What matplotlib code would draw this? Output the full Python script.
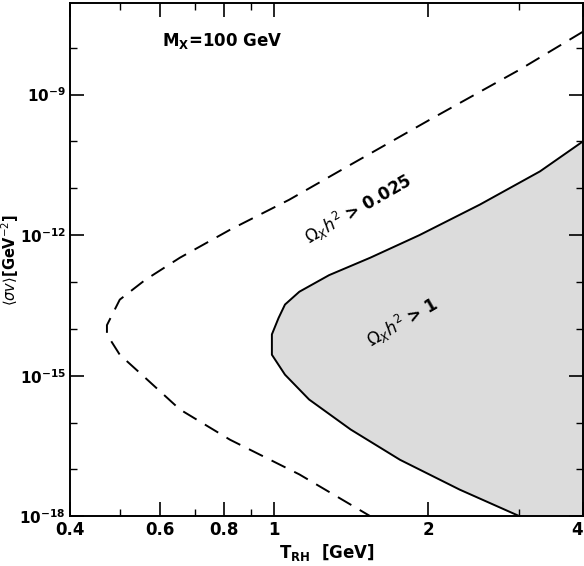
import numpy as np
import matplotlib.pyplot as plt
from matplotlib.ticker import FixedLocator, NullFormatter, LogLocator

# dashed contour: Omega h^2 = 0.025
dash_T = [4.0, 3.01, 2.01, 1.41, 1.07, 0.82, 0.655, 0.56, 0.50, 0.472, 0.472, 0.50, 0.56, 0.655, 0.82, 1.12, 1.54]
dash_sv = [2.2e-8, 3.4e-9, 2.9e-10, 3.2e-11, 5.7e-12, 1.3e-12, 3.3e-13, 1.1e-13, 4.2e-14, 1.2e-14,
           7.6e-15, 2.8e-15, 9.1e-16, 1.9e-16, 4.3e-17, 7.8e-18, 1e-18]

# solid contour: Omega h^2 = 1
solid_T = [4.0, 3.30, 2.52, 1.92, 1.54, 1.28, 1.12, 1.05, 1.02, 0.99, 0.99, 1.05, 1.17, 1.41, 1.76, 2.30, 3.01]
solid_sv = [1e-10, 2.3e-11, 4.5e-12, 1.0e-12, 3.3e-13, 1.4e-13, 6.2e-14, 3.3e-14, 1.7e-14, 7.6e-15,
            2.8e-15, 1.05e-15, 3.1e-16, 7.1e-17, 1.6e-17, 3.7e-18, 1e-18]

x_ticks = [0.4, 0.6, 0.8, 1, 2, 4]
x_labels = ['0.4', '0.6', '0.8', '1', '2', '4']

fig = plt.figure(figsize=(5.84, 5.66), dpi=100)
ax = fig.add_axes([0.12, 0.088, 0.878, 0.907])
ax.set_xscale('log')
ax.set_yscale('log')
ax.set_xlim(0.4, 4)
ax.set_ylim(1e-18, 10**-7.04)

# shaded region right of solid curve
fx = solid_T + [4.0]
fy = solid_sv + [1e-18]
ax.fill(fx, fy, color='#dcdcdc', zorder=1)
ax.plot(solid_T, solid_sv, 'k-', lw=1.4, zorder=2)
ax.plot(dash_T, dash_sv, 'k--', lw=1.4, dashes=(8, 5), zorder=2)

ax.xaxis.set_major_locator(FixedLocator(x_ticks))
ax.set_xticklabels(x_labels)
ax.xaxis.set_minor_locator(FixedLocator([0.5, 0.7, 0.9, 3]))
ax.xaxis.set_minor_formatter(NullFormatter())
ax.yaxis.set_major_locator(FixedLocator([1e-18, 1e-15, 1e-12, 1e-9]))
ax.yaxis.set_minor_locator(LogLocator(base=10, subs=[1.0], numticks=20))
ax.yaxis.set_minor_formatter(NullFormatter())
ax.tick_params(which='both', direction='in', top=True, right=True, labelsize=12)
ax.tick_params(axis='y', pad=3, labelsize=11)
ax.tick_params(which='major', length=10, width=1.2)
ax.tick_params(which='minor', length=5, width=1)
for s in ax.spines.values():
    s.set_linewidth(1.4)
for lab in ax.get_xticklabels() + ax.get_yticklabels():
    lab.set_fontweight('bold')
ax.get_xticklabels()[-1].set_horizontalalignment('right')

ax.set_xlabel(r'$\mathbf{T_{RH}}$  [GeV]', fontsize=12, fontweight='bold', labelpad=2)
ax.set_ylabel(r'$\langle\sigma v\rangle$[GeV$^{-2}$]', fontsize=10.5, fontweight='bold')
ax.yaxis.set_label_coords(-0.095, 0.5)

ax.text(0.18, 0.915, r'$\mathbf{M_X}$=100 GeV', transform=ax.transAxes, fontsize=12, fontweight='bold')
ax.text(0.45, 0.53, r'$\Omega_X h^2$ > 0.025', transform=ax.transAxes, fontsize=12,
        fontweight='bold', rotation=30)
ax.text(0.57, 0.33, r'$\Omega_X h^2$ > 1', transform=ax.transAxes, fontsize=12,
        fontweight='bold', rotation=30)

fig.savefig('out.png', dpi=100)
